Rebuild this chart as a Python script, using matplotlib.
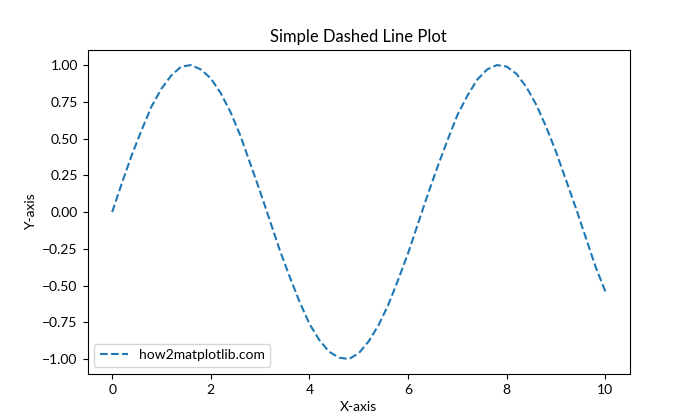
import matplotlib
matplotlib.use("Agg")
import matplotlib.pyplot as plt

plt.rcParams['font.family'] = ['Lato', 'DejaVu Sans']

x_values = [0.0, 0.2, 0.4, 0.6, 0.8, 1.0, 1.2, 1.4, 1.6, 1.8,
            2.0, 2.2, 2.4, 2.6, 2.8, 3.0, 3.2, 3.4, 3.6, 3.8,
            4.0, 4.2, 4.4, 4.6, 4.8, 5.0, 5.2, 5.4, 5.6, 5.8,
            6.0, 6.2, 6.4, 6.6, 6.8, 7.0, 7.2, 7.4, 7.6, 7.8,
            8.0, 8.2, 8.4, 8.6, 8.8, 9.0, 9.2, 9.4, 9.6, 9.8, 10.0]
y_values = [0.00, 0.20, 0.39, 0.56, 0.72, 0.84, 0.93, 0.99, 1.00, 0.97,
            0.91, 0.81, 0.68, 0.52, 0.33, 0.14, -0.06, -0.26, -0.44, -0.61,
            -0.76, -0.87, -0.95, -0.99, -1.00, -0.96, -0.88, -0.77, -0.63, -0.46,
            -0.28, -0.08, 0.12, 0.31, 0.49, 0.66, 0.79, 0.90, 0.97, 1.00,
            0.99, 0.94, 0.85, 0.73, 0.58, 0.41, 0.22, 0.03, -0.17, -0.37, -0.54]
series_label = "how2matplotlib.com"

fig, ax = plt.subplots(figsize=(7, 4.2), dpi=100)
ax.plot(x_values, y_values, linestyle='--', label=series_label)
ax.set_title("Simple Dashed Line Plot")
ax.set_xlabel("X-axis")
ax.set_ylabel("Y-axis")
ax.legend(loc='lower left')
fig.savefig("out.png", dpi=100)
